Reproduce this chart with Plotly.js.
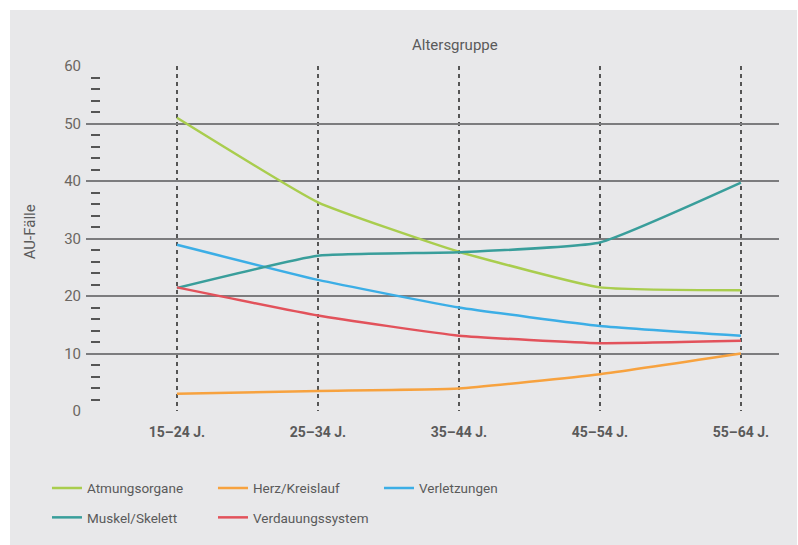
<!DOCTYPE html>
<html>
<head>
<meta charset="utf-8">
<script src="https://cdn.plot.ly/plotly-3.0.1.min.js"></script>
<style>
  html, body { margin: 0; padding: 0; background: #ffffff; }
  #chart { position: absolute; left: 10px; top: 10px; width: 787px; height: 535px; }
</style>
</head>
<body>
<div id="chart"></div>
<script>
// ---- data ----
const categories = ["15–24 J.", "25–34 J.", "35–44 J.", "45–54 J.", "55–64 J."];
const atmungsorgane   = [51.0, 36.3, 27.7, 21.5, 21.0];
const herzKreislauf   = [3.0, 3.5, 3.9, 6.4, 10.0];
const verletzungen    = [28.9, 22.8, 18.0, 14.8, 13.1];
const muskelSkelett   = [21.4, 27.0, 27.6, 29.3, 39.7];
const verdauung       = [21.5, 16.6, 13.1, 11.8, 12.2];
const yTickVals = [0, 10, 20, 30, 40, 50, 60];
const yMinorVals = [2,4,6,8,12,14,16,18,22,24,26,28,32,34,36,38,42,44,46,48,52,54,56,58];

const FONT = '"Liberation Sans Narrow", Roboto, "Open Sans", sans-serif';
const TXT = '#5a5a5a';

function series(name, values, color, legendId) {
  return {
    type: 'scatter', mode: 'lines', name: name,
    x: categories, y: values,
    line: { color: color, width: 2.5, shape: 'spline', smoothing: 0.4 },
    legend: legendId, hoverinfo: 'x+y+name'
  };
}

const traces = [
  series('Atmungsorgane', atmungsorgane, '#a9cd4e', 'legend'),
  series('Herz/Kreislauf', herzKreislauf, '#f7a23f', 'legend'),
  series('Verletzungen', verletzungen, '#3caee6', 'legend'),
  series('Muskel/Skelett', muskelSkelett, '#399e9b', 'legend2'),
  series('Verdauungssystem', verdauung, '#e2525b', 'legend2'),
  { type: 'scatter', x: [], y: [], yaxis: 'y2', showlegend: false, hoverinfo: 'skip' }
];

const layout = {
  width: 787, height: 535,
  margin: { l: 76, r: 18, t: 56, b: 134 },
  paper_bgcolor: '#e8e8ea', plot_bgcolor: '#e8e8ea',
  font: { family: FONT, color: TXT, size: 14 },
  showlegend: true,
  xaxis: {
    type: 'category', range: [-0.645, 4.27],
    showgrid: true, gridcolor: '#555555', gridwidth: 1.2, griddash: '4px,4px',
    showline: false, zeroline: false, ticks: '',
    tickfont: { family: FONT, size: 14, color: TXT, weight: 'bold' },
    ticklabelstandoff: 11
  },
  yaxis: {
    range: [0, 60], tickvals: yTickVals,
    showgrid: true, gridcolor: '#7c7c7e', gridwidth: 2,
    zeroline: false, showline: false, ticks: '',
    tickfont: { family: FONT, size: 15, color: '#6b6661' },
    ticklabelstandoff: 4
  },
  yaxis2: {
    overlaying: 'y', anchor: 'free', side: 'left', position: 0.006,
    range: [0, 60], tickvals: yMinorVals, ticks: 'inside', ticklen: 9, tickwidth: 2,
    tickcolor: '#555555', showticklabels: false, showgrid: false, zeroline: false, showline: false
  },
  legend: {
    orientation: 'h', x: -0.0563, xanchor: 'left', y: -0.179, yanchor: 'top',
    bgcolor: 'rgba(0,0,0,0)', entrywidth: 121, entrywidthmode: 'pixels',
    font: { family: FONT, size: 13.5, color: TXT }
  },
  legend2: {
    orientation: 'h', x: -0.0563, xanchor: 'left', y: -0.264, yanchor: 'top',
    bgcolor: 'rgba(0,0,0,0)', entrywidth: 121, entrywidthmode: 'pixels',
    font: { family: FONT, size: 13.5, color: TXT }
  },
  annotations: [
    { text: 'Altersgruppe', xref: 'paper', yref: 'paper', x: 0.5325, y: 1.0595,
      xanchor: 'center', yanchor: 'middle', showarrow: false,
      font: { family: FONT, size: 15, color: TXT } },
    { text: 'AU-Fälle', xref: 'paper', yref: 'paper', x: -0.0808, y: 0.518,
      xanchor: 'center', yanchor: 'middle', textangle: -90, showarrow: false,
      font: { family: FONT, size: 15, color: TXT } }
  ]
};

Plotly.newPlot('chart', traces, layout, { displayModeBar: false, staticPlot: true });
</script>
</body>
</html>
